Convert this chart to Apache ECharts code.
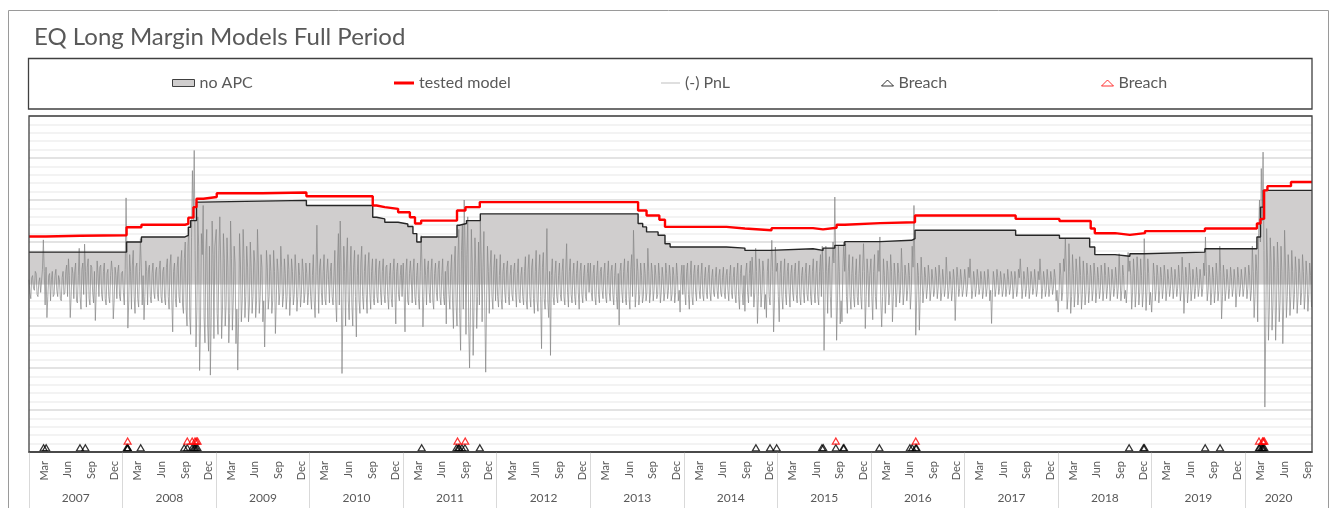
<!DOCTYPE html>
<html><head><meta charset="utf-8">
<script src="https://cdn.jsdelivr.net/npm/echarts@6/dist/echarts.min.js"></script>
<style>html,body{margin:0;padding:0;background:#fff}#c{width:1332px;height:508px}</style>
</head><body><div id="c"></div>
<script>
// ---------- axis / tick labels ----------
const years = [2007,2008,2009,2010,2011,2012,2013,2014,2015,2016,2017,2018,2019,2020];
const monthLabels = ['Mar','Jun','Sep','Dec'];
const monthNumbers = [3,6,9,12];
const axisStart = '2007-01-01';
const axisEnd = '2020-09-18';

// ---------- no APC (black step line + grey area) ----------
const noApcDates = ['2007-01-01','2008-01-17','2008-03-15','2008-09-01','2008-09-14','2008-09-23','2008-10-16','2008-10-29','2009-12-19','2010-09-04','2010-09-19','2010-10-21','2010-12-12','2011-01-19','2011-02-08','2011-02-23','2011-03-12','2011-07-30','2011-08-08','2011-09-05','2011-10-29','2013-07-06','2013-07-24','2013-08-08','2013-09-22','2013-10-19','2013-11-08','2014-06-16','2014-08-27','2014-12-03','2015-05-20','2015-06-28','2015-08-13','2015-09-21','2016-02-06','2016-06-08','2016-06-21','2017-07-19','2018-01-06','2018-05-04','2018-05-24','2018-08-11','2018-10-08','2018-11-30','2019-07-28','2020-02-16','2020-03-01','2020-03-12','2020-09-18'];
const noApcValues = [0.76,1.00,1.12,1.16,1.35,1.51,1.95,1.99,1.87,1.59,1.55,1.47,1.43,1.37,1.20,1.00,1.12,1.40,1.44,1.51,1.67,1.44,1.36,1.24,1.16,0.96,0.88,0.855,0.80,0.84,0.80,0.855,0.92,1.01,1.04,1.08,1.28,1.16,1.09,0.88,0.70,0.66,0.72,0.76,0.84,1.12,1.83,2.23,2.23];

// ---------- tested model (red step line) ----------
const testedDates = ['2007-01-01','2007-03-08','2007-07-20','2008-01-17','2008-03-15','2008-09-01','2008-09-14','2008-10-04','2008-10-16','2008-11-12','2009-01-03','2009-07-01','2009-12-19','2010-09-04','2010-09-19','2010-10-21','2010-12-12','2011-01-27','2011-02-16','2011-03-12','2011-07-30','2011-09-01','2011-10-27','2013-07-06','2013-08-08','2013-09-27','2013-10-19','2014-06-16','2014-08-27','2014-12-09','2015-05-20','2015-06-28','2015-08-20','2015-09-21','2016-02-06','2016-06-21','2017-07-19','2018-01-06','2018-05-08','2018-05-24','2018-08-11','2018-10-08','2018-12-06','2019-07-28','2020-02-16','2020-03-01','2020-03-15','2020-03-28','2020-06-28','2020-09-18'];
const testedValues = [1.13,1.15,1.16,1.35,1.41,1.43,1.58,1.83,2.03,2.07,2.16,2.18,2.09,1.87,1.83,1.79,1.71,1.59,1.44,1.51,1.75,1.83,1.95,1.75,1.63,1.53,1.36,1.32,1.28,1.33,1.30,1.34,1.41,1.45,1.47,1.63,1.55,1.50,1.32,1.21,1.17,1.21,1.26,1.32,1.44,1.55,2.23,2.33,2.43,2.43];

// ---------- (-) PnL, twice-weekly readings per year ----------
const pnl2007 = [0.1,-0.2,-0.35,0.15,0.2,-0.1,-0.15,0.3,0.25,-0.25,-0.3,0.05,0.15,-0.2,-0.2,0.35,1.05,0.3,-0.5,0.4,-0.8,-0.3,0.2,0.25,-0.4,0.1,0.3,-0.3,-0.25,0.2,0.35,-0.15,-0.3,0.2,0.1,-0.35,-0.4,0.15,0.3,-0.25,-0.2,0.3,0.45,-0.3,0.6,0.2,-0.8,-0.3,0.4,0.25,-0.35,0.3,0.5,-0.4,-0.45,0.2,0.85,-0.3,-0.6,0.35,0.5,-0.25,0.95,0.3,-0.55,0.4,0.6,-0.35,-0.5,0.45,0.4,-0.2,-0.45,0.3,-0.87,-0.2,0.55,0.25,-0.3,0.4,0.45,-0.25,-0.4,0.3,0.5,-0.35,-0.5,0.25,0.35,-0.3,-0.45,0.2,0.55,0.3,-0.83,-0.4,0.4,0.2,-0.35,0.3,0.45,-0.3,-0.4,0.25];
const pnl2008 = [0.3,-0.2,-0.5,0.35,2.05,0.6,-1.05,-0.4,0.7,0.3,-0.6,0.45,0.8,-0.3,-0.7,0.4,0.5,-0.35,-0.55,0.3,1.08,0.4,-0.5,0.2,-0.85,-0.3,0.55,0.3,-0.5,0.35,0.45,-0.3,-0.45,0.25,0.5,-0.2,-0.35,0.3,0.4,-0.25,-0.4,0.35,0.55,-0.3,-0.45,0.3,0.4,-0.35,-0.5,0.4,0.6,-0.3,-0.6,0.45,0.7,-0.4,-1.14,0.3,0.5,-0.35,-0.55,0.4,0.65,-0.3,-0.45,0.5,0.8,-0.5,-0.7,0.6,1.0,-0.6,-1.0,0.9,1.3,-0.8,-1.2,1.1,2.7,1.5,3.18,0.8,-1.5,-0.6,1.6,0.9,-2.06,-1.0,1.2,0.7,1.87,-0.8,-1.4,0.8,1.3,-1.0,-1.6,0.9,-2.17,-0.8,1.5,0.7,-1.3,0.9];
const pnl2009 = [1.3,-0.7,-1.2,0.8,1.6,0.5,-1.3,-0.6,1.2,0.6,-1.0,-0.5,1.1,0.4,-1.4,-0.7,1.5,0.6,-1.1,-0.4,0.9,0.5,-1.42,-0.6,-2.05,-0.8,1.2,0.5,-0.9,-0.4,1.3,0.6,-0.8,-0.3,0.9,0.4,-0.9,-0.5,1.0,0.4,-0.7,-0.3,0.8,0.5,-0.8,-0.4,1.3,0.5,-0.7,-0.3,0.7,0.4,-0.9,-0.4,-1.5,-0.5,0.8,0.4,-0.6,-0.3,0.7,0.3,-0.7,-0.4,0.8,0.3,-1.18,-0.4,0.6,0.3,-0.5,-0.2,0.9,0.4,-0.55,-0.3,0.6,0.25,-0.6,-0.3,0.7,0.35,-0.75,-0.3,0.6,0.3,-0.5,-0.25,0.7,0.3,-0.65,-0.3,0.5,0.2,-0.55,-0.25,0.6,0.3,-0.45,-0.2,0.5,0.25,-0.5,-0.2];
const pnl2010 = [0.5,-0.3,-0.6,0.2,0.7,-0.4,-0.8,0.3,1.4,0.2,-0.7,0.4,0.6,-0.2,-0.5,0.3,0.7,-0.35,-0.5,0.25,0.6,0.1,-0.45,0.3,0.5,-0.3,-0.5,0.2,0.8,-0.4,-0.9,0.5,1.2,-0.5,1.5,0.4,-2.13,-0.6,0.9,0.3,-1.0,0.5,1.1,-0.4,-0.85,0.3,0.9,-0.5,-1.0,0.4,0.8,-0.3,-1.26,0.2,0.7,-0.4,-0.7,0.5,0.9,-0.3,-0.6,0.3,0.7,-0.25,-0.7,0.4,0.75,-0.2,-0.6,0.3,0.6,-0.35,-0.5,0.2,0.6,-0.3,-0.45,0.35,0.55,-0.2,-0.5,0.3,0.6,-0.25,-0.45,0.4,0.45,-0.3,-0.6,0.2,0.5,-0.35,-0.55,0.3,0.6,-0.2,-0.95,0.3,0.5,-0.25,-0.4,0.2,0.45,-0.3];
const pnl2011 = [0.5,-0.2,-1.14,0.3,0.6,-0.4,-0.5,0.25,0.55,0.1,-0.45,0.3,0.6,-0.3,-0.5,0.2,0.5,-0.35,-0.6,0.3,1.15,0.4,-1.02,-0.3,0.6,0.2,-0.5,0.35,0.55,-0.2,-0.45,0.3,0.6,-0.4,-0.6,0.25,0.5,-0.2,-0.4,0.35,0.55,-0.3,-0.5,0.2,0.6,-0.3,-0.5,0.3,-0.95,0.4,0.55,-0.25,-0.6,0.3,0.7,-0.4,-1.06,0.5,0.9,-0.5,-1.0,0.6,1.3,-0.7,-1.58,0.8,1.4,-0.6,2.0,0.9,-1.2,0.7,1.6,-0.9,-2.0,-0.6,1.3,0.5,-1.7,-0.5,1.1,0.4,-1.06,-0.3,1.0,-0.5,1.5,0.6,-0.9,0.4,1.25,-0.6,-2.1,-0.4,0.9,0.3,-0.7,0.4,0.8,-0.3,-0.6,0.35,0.7,-0.4];
const pnl2012 = [0.6,-0.3,-0.55,0.2,0.7,-0.35,-0.6,0.3,0.5,-0.2,-0.45,0.35,0.55,-0.3,-0.5,0.2,0.45,-0.25,-0.4,0.3,0.5,-0.2,-0.55,0.25,0.6,-0.35,-0.45,0.2,0.4,-0.3,-0.5,0.3,0.65,-0.4,-0.6,0.35,0.7,-0.3,-0.55,0.4,0.6,-0.35,-0.7,0.3,0.8,-0.4,-0.65,0.3,0.7,-0.3,-1.54,0.4,0.75,-0.35,-0.6,0.3,1.32,-0.4,-0.8,0.3,-1.7,0.2,0.6,-0.3,-0.5,0.25,0.55,-0.3,-0.45,0.2,0.5,-0.25,-0.4,0.3,0.6,-0.3,-0.5,0.35,0.96,-0.2,-0.55,0.3,0.6,-0.25,-0.45,0.2,0.5,-0.3,-0.5,0.25,0.55,-0.2,-0.6,0.3,0.5,-0.25,-0.45,0.2,0.45,-0.3,-0.4,0.25,0.5,-0.2];
const pnl2013 = [0.5,-0.2,-0.4,0.25,0.45,-0.3,-0.5,0.2,0.55,-0.25,-0.45,0.3,0.4,-0.15,-0.35,0.25,0.5,-0.3,-0.45,0.2,0.55,-0.2,-0.4,0.3,0.45,-0.25,-0.5,0.2,0.5,-0.3,-0.6,0.25,-0.98,0.3,0.5,-0.2,-0.45,0.3,0.6,-0.35,-0.5,0.25,0.55,-0.3,-0.6,0.35,0.7,-0.3,1.28,0.4,-0.55,-0.2,0.6,0.3,-0.5,-0.25,0.5,0.2,-0.45,-0.3,0.5,0.25,-0.4,-0.2,0.85,0.3,-0.45,-0.2,0.5,0.25,-0.4,-0.15,0.45,0.2,-0.35,-0.25,0.5,0.2,-0.45,-0.2,0.4,0.15,-0.4,-0.2,0.5,0.25,-0.35,-0.15,0.45,0.2,-0.4,-0.25,0.4,0.2,-0.45,-0.2,0.5,0.2,-0.4,-0.15,-0.67,0.2,0.45,-0.25];
const pnl2014 = [0.45,-0.2,-0.5,0.3,0.5,-0.25,-0.6,0.2,0.55,-0.3,-0.5,0.25,0.45,-0.2,-0.4,0.3,0.45,-0.15,-0.35,0.2,0.5,-0.25,-0.4,0.15,0.4,-0.2,-0.35,0.25,0.45,-0.2,-0.4,0.15,0.35,-0.2,-0.3,0.15,0.4,-0.15,-0.35,0.2,0.35,-0.2,-0.3,0.15,0.4,-0.2,-0.35,0.2,0.35,-0.15,-0.4,0.2,0.45,-0.2,-0.35,0.15,0.4,-0.25,-0.45,0.2,0.5,-0.3,-0.6,0.25,0.45,-0.2,-0.5,0.2,-0.65,0.3,0.5,-0.2,-0.45,0.25,0.55,-0.3,0.64,0.2,-0.55,-0.2,0.85,0.3,-0.94,-0.3,0.6,0.25,-0.55,-0.2,0.55,0.3,-0.6,-0.25,-0.8,0.3,0.6,-0.3,-0.5,0.4,1.04,0.3,-1.14,-0.4,0.88,0.3];
const pnl2015 = [0.5,-0.3,-0.9,0.25,0.55,-0.3,-0.6,0.2,0.6,-0.25,-0.5,0.3,0.5,-0.2,-0.55,0.25,0.45,-0.2,-0.4,0.3,0.5,-0.25,-0.45,0.2,0.55,-0.3,-0.5,0.2,0.4,-0.2,-0.45,0.25,0.5,-0.25,-0.4,0.2,0.45,-0.3,-0.5,0.3,0.6,-0.2,-0.45,0.25,0.55,-0.3,-0.5,0.3,0.7,-0.3,0.9,0.3,-1.58,-0.5,0.9,0.3,-0.7,0.4,0.65,-0.3,-0.8,0.4,1.0,0.5,2.07,0.6,-1.34,-0.4,0.9,0.3,-0.95,-0.4,-0.9,0.4,1.0,0.3,0.95,-0.3,-0.7,0.3,0.7,-0.3,-0.6,0.25,0.65,-0.3,-0.55,0.2,0.6,-0.3,-0.5,0.25,0.7,-0.3,-0.6,0.3,0.96,0.3,-1.06,-0.3,0.6,0.25,-0.55,0.2];
const pnl2016 = [0.6,-0.3,-0.85,0.3,0.7,-0.3,-0.6,0.25,0.8,0.3,1.12,-0.4,-1.02,-0.3,0.6,0.2,-0.7,-0.2,0.55,0.3,-0.5,-0.2,0.7,0.3,-0.9,-0.3,0.5,0.2,-0.55,-0.2,0.5,0.25,-0.45,-0.15,0.85,0.3,-0.5,-0.2,0.45,0.2,-0.4,-0.15,0.5,0.2,-0.6,-0.2,0.9,0.4,1.87,0.5,-1.22,-0.4,0.5,0.2,-1.1,-0.3,0.64,0.2,-0.45,-0.15,0.4,0.15,-0.35,-0.1,0.45,0.2,-0.4,-0.15,0.35,0.1,-0.3,-0.15,0.4,0.2,-0.35,-0.1,0.45,0.15,-0.4,-0.2,0.35,0.1,-0.3,-0.1,0.64,0.2,-0.35,-0.15,0.3,0.1,-0.4,-0.15,0.35,0.1,-0.87,-0.2,0.4,0.15,-0.3,-0.1,0.35,0.1,-0.3,-0.15];
const pnl2017 = [0.35,0.1,-0.3,-0.1,0.4,0.15,0.6,0.1,-0.35,-0.15,0.3,0.1,-0.3,-0.1,0.35,0.15,-0.25,-0.1,0.3,0.1,-0.35,-0.15,0.3,0.1,-0.3,-0.1,0.35,0.1,-0.4,-0.15,-0.94,-0.2,0.3,0.1,-0.3,-0.1,0.35,0.15,-0.25,-0.1,0.3,0.1,-0.3,-0.15,0.25,0.1,-0.3,-0.1,0.35,0.1,-0.25,-0.1,0.3,0.15,-0.35,-0.1,0.3,0.1,-0.3,-0.15,0.35,0.15,0.6,0.2,-0.35,-0.1,0.3,0.1,-0.3,-0.1,0.4,0.15,-0.35,-0.1,0.3,0.1,-0.25,-0.1,0.35,0.1,-0.3,-0.15,0.3,0.1,0.6,0.2,-0.35,-0.1,0.3,0.1,-0.3,-0.15,0.35,0.1,-0.3,-0.1,0.3,0.1,-0.25,-0.1,0.35,0.15,-0.4,-0.15];
const pnl2018 = [-0.67,-0.2,0.5,0.2,-0.4,-0.2,0.6,0.3,1.08,0.4,-0.6,-0.3,0.96,0.3,-0.7,-0.3,0.7,0.25,-0.55,-0.2,0.6,0.3,-0.5,-0.2,0.65,0.2,-0.6,-0.25,0.55,0.2,-0.5,-0.2,0.5,0.2,-0.45,-0.15,0.45,0.2,-0.4,-0.15,0.5,0.2,-0.45,-0.2,0.4,0.15,-0.35,-0.15,0.45,0.2,-0.4,-0.15,0.5,0.2,-0.35,-0.1,0.4,0.15,-0.4,-0.15,0.35,0.1,-0.3,-0.1,0.4,0.15,-0.35,-0.1,0.72,0.2,-0.4,-0.15,0.45,0.2,-0.35,-0.15,-0.45,-0.1,0.75,0.3,0.55,0.2,-0.6,-0.2,0.6,0.25,-0.55,-0.2,0.65,0.3,-0.5,-0.2,0.6,0.2,-0.55,-0.2,1.08,0.3,-0.63,-0.2,0.6,0.25,-0.5,-0.2];
const pnl2019 = [-0.67,-0.2,0.5,0.2,-0.4,-0.15,0.45,0.2,-0.45,-0.15,0.4,0.15,-0.35,-0.1,0.45,0.2,-0.4,-0.15,0.35,0.1,-0.3,-0.1,0.4,0.15,-0.35,-0.1,0.35,0.1,-0.3,-0.1,0.45,0.15,-0.4,-0.15,0.64,0.2,-0.7,-0.2,0.4,0.15,-0.45,-0.15,0.5,0.2,-0.4,-0.15,0.35,0.1,-0.35,-0.1,0.4,0.15,-0.3,-0.1,0.35,0.1,-0.3,-0.1,0.5,0.2,1.12,0.3,-0.4,-0.15,0.45,0.15,-0.5,-0.2,0.4,0.15,-0.45,-0.15,0.5,0.2,-0.4,-0.15,0.9,0.3,-0.83,-0.3,0.45,0.15,-0.4,-0.15,0.35,0.1,-0.35,-0.1,0.4,0.15,-0.3,-0.1,0.35,0.1,-0.55,-0.2,0.4,0.15,-0.3,-0.1,0.35,0.1,-0.3,-0.1];
const pnl2020 = [0.4,0.15,-0.35,-0.1,0.45,0.2,-0.4,-0.15,0.9,0.3,-0.8,-0.3,0.7,0.3,-0.9,1.2,2.0,1.0,2.75,1.5,3.14,0.8,-2.93,-1.0,1.32,0.5,-1.34,-0.6,1.1,0.5,-1.1,-0.5,0.9,0.4,-1.34,-0.5,1.0,0.4,-0.9,-0.4,0.9,0.3,-1.42,-0.5,1.28,0.5,-0.8,-0.3,0.7,0.3,-0.75,-0.3,0.8,0.3,-0.6,-0.25,0.65,0.3,-0.7,-0.3,0.6,0.25,-0.5,-0.2,0.7,0.3,-0.6,-0.25,0.55,0.2,-0.65,-0.25,0.5,0.2,-0.55];
const pnlYears = [pnl2007,pnl2008,pnl2009,pnl2010,pnl2011,pnl2012,pnl2013,pnl2014,pnl2015,pnl2016,pnl2017,pnl2018,pnl2019,pnl2020];

// ---------- breaches ----------
const breachNoApcDates = ['2007-02-27','2007-03-09','2007-07-19','2007-08-09','2008-01-18','2008-01-21','2008-01-22','2008-03-12','2008-08-29','2008-09-10','2008-09-29','2008-10-06','2008-10-10','2008-10-15','2008-10-20','2011-03-14','2011-07-28','2011-08-04','2011-08-08','2011-08-18','2011-08-30','2011-10-27','2014-10-09','2014-12-03','2014-12-29','2015-06-24','2015-06-29','2015-08-17','2015-09-15','2015-09-18','2016-02-03','2016-06-01','2016-06-10','2016-06-24','2016-06-27','2018-10-05','2018-11-30','2018-12-04','2019-07-29','2019-09-25','2020-02-24','2020-02-27','2020-03-05','2020-03-09','2020-03-12','2020-03-16'];
const breachTestedDates = ['2008-01-21','2008-09-10','2008-09-29','2008-10-10','2008-10-15','2008-10-20','2011-08-01','2011-08-31','2015-08-17','2016-06-24','2020-02-24','2020-03-09','2020-03-12','2020-03-16'];
const breachNoApcLevel = -3.9;
const breachTestedLevel = -3.74;

// ---------- build ----------
const DAY = 86400000;
function ts(s){ return Date.UTC(+s.slice(0,4), +s.slice(5,7)-1, +s.slice(8,10)); }
const xMin = ts(axisStart), xMax = ts(axisEnd);
const pairs = (d, v) => d.map((s, i) => [ts(s), v[i]]);
const noApcData = pairs(noApcDates, noApcValues);
const testedData = pairs(testedDates, testedValues);
const pnlData = [];
years.forEach((y, k) => pnlYears[k].forEach((v, h) => pnlData.push([Date.UTC(y,0,1) + h*3.5*DAY, v])));
const breachNoApc = breachNoApcDates.map(s => [ts(s), breachNoApcLevel]);
const breachTested = breachTestedDates.map(s => [ts(s), breachTestedLevel]);

const monthTicks = [];
years.forEach(y => monthNumbers.forEach(m => { const t = Date.UTC(y, m-1, 1); if (t <= xMax) monthTicks.push(t); }));
const yearBounds = years.map(y => Date.UTC(y,0,1));
const yearCenters = years.map(y => (Date.UTC(y,0,1) + Math.min(Date.UTC(y+1,0,1), xMax)) / 2);

const FONT = "Lato, 'Open Sans', sans-serif";
const TXT = '#595959';
const legendBase = { padding: 0, itemGap: 0, top: 75, textStyle: { color: TXT, fontSize: 16, fontFamily: FONT, lineHeight: 16 } };

const chart = echarts.init(document.getElementById('c'), null, { renderer: 'canvas' });
chart.setOption({
  animation: false,
  backgroundColor: '#ffffff',
  title: { text: 'EQ Long Margin Models Full Period', left: 34, top: 25, padding: 0,
    textStyle: { color: TXT, fontSize: 24, fontWeight: 'normal', fontFamily: FONT, lineHeight: 24 } },
  graphic: [
    { type: 'rect', silent: true, shape: { x: 8.5, y: 10.5, width: 1320, height: 530 }, style: { fill: 'none', stroke: '#9a9a9a', lineWidth: 1 }, z: -10 },
    { type: 'rect', silent: true, shape: { x: 28.5, y: 58.5, width: 1283.5, height: 50.5 }, style: { fill: 'none', stroke: '#404040', lineWidth: 1.3 }, z: -10 },
    { type: 'rect', silent: true, shape: { x: 29, y: 116, width: 1283, height: 336 }, style: { fill: 'none', stroke: '#404040', lineWidth: 1.3 }, z: 100 }
  ],
  legend: [
    Object.assign({}, legendBase, { left: 172, itemWidth: 22, itemHeight: 7,
      data: [{ name: 'no APC', icon: 'rect', itemStyle: { color: '#d0cece', borderColor: '#404040', borderWidth: 1 } }] }),
    Object.assign({}, legendBase, { left: 394, itemWidth: 20, itemHeight: 3,
      data: [{ name: 'tested model', icon: 'rect', itemStyle: { color: '#ff0000', borderWidth: 0 } }] }),
    Object.assign({}, legendBase, { left: 661, itemWidth: 19, itemHeight: 1,
      data: [{ name: '(-) PnL', icon: 'rect', itemStyle: { color: '#bfbfbf', borderWidth: 0 } }] }),
    Object.assign({}, legendBase, { left: 881, itemWidth: 12, itemHeight: 6,
      data: [{ name: 'Breach', icon: 'triangle', itemStyle: { color: 'rgba(0,0,0,0)', borderColor: '#000000', borderWidth: 1 } }] }),
    Object.assign({}, legendBase, { left: 1101, itemWidth: 12, itemHeight: 6,
      data: [{ name: 'Breach ', icon: 'triangle', itemStyle: { color: 'rgba(0,0,0,0)', borderColor: '#ff0000', borderWidth: 1 } }] })
  ],
  grid: { left: 29, top: 116, right: 20, bottom: 56, show: false, containLabel: false, outerBoundsMode: 'none' },
  xAxis: [
    { type: 'value', min: xMin, max: xMax, position: 'bottom', scale: true,
      axisLine: { show: true, onZero: false, lineStyle: { color: '#404040', width: 1.5 } },
      axisTick: { show: false },
      splitLine: { show: false },
      axisLabel: { customValues: monthTicks, rotate: 90, margin: 9, color: TXT, fontSize: 11, fontFamily: FONT,
        hideOverlap: false,
        formatter: v => monthLabels[monthNumbers.indexOf(new Date(v).getUTCMonth() + 1)] } },
    { type: 'value', min: xMin, max: xMax, position: 'bottom', scale: true,
      axisLine: { show: false, onZero: false },
      axisTick: { show: true, customValues: yearBounds, length: 58, lineStyle: { color: '#d9d9d9', width: 1 } },
      splitLine: { show: false },
      axisLabel: { customValues: yearCenters, margin: 40, color: TXT, fontSize: 12, fontFamily: FONT, hideOverlap: false,
        formatter: v => String(new Date(v).getUTCFullYear()) } }
  ],
  yAxis: { type: 'value', min: -4, max: 4, interval: 1,
    axisLine: { show: false }, axisTick: { show: false }, axisLabel: { show: false },
    splitLine: { show: true, lineStyle: { color: '#e3e3e3', width: 2 } },
    minorTick: { show: false, splitNumber: 5 },
    minorSplitLine: { show: true, lineStyle: { color: '#f0f0f0', width: 1.5 } } },
  series: [
    { name: 'no APC', type: 'line', step: 'end', data: noApcData, symbol: 'none', silent: true,
      lineStyle: { width: 0 }, itemStyle: { color: '#d0cece' }, areaStyle: { color: '#d0cece', opacity: 1 }, z: 1 },
    { name: '(-) PnL', type: 'line', data: pnlData, symbol: 'none', silent: true,
      lineStyle: { color: '#858585', width: 0.7 }, itemStyle: { color: '#bfbfbf' }, z: 2 },
    { name: 'no APC line', type: 'line', step: 'end', data: noApcData, symbol: 'none', silent: true,
      lineStyle: { color: '#262626', width: 1.4 }, z: 3 },
    { name: 'tested model', type: 'line', step: 'end', data: testedData, symbol: 'none', silent: true,
      lineStyle: { color: '#ff0000', width: 2.4 }, itemStyle: { color: '#ff0000' }, z: 4 },
    { name: 'Breach', type: 'scatter', data: breachNoApc, symbol: 'triangle', symbolSize: [7, 6], silent: true,
      itemStyle: { color: 'rgba(0,0,0,0)', borderColor: '#000000', borderWidth: 1.2 }, z: 5 },
    { name: 'Breach ', type: 'scatter', data: breachTested, symbol: 'triangle', symbolSize: [7, 6], silent: true,
      itemStyle: { color: 'rgba(0,0,0,0)', borderColor: '#ff0000', borderWidth: 1.2 }, z: 6 }
  ]
});
</script></body></html>
